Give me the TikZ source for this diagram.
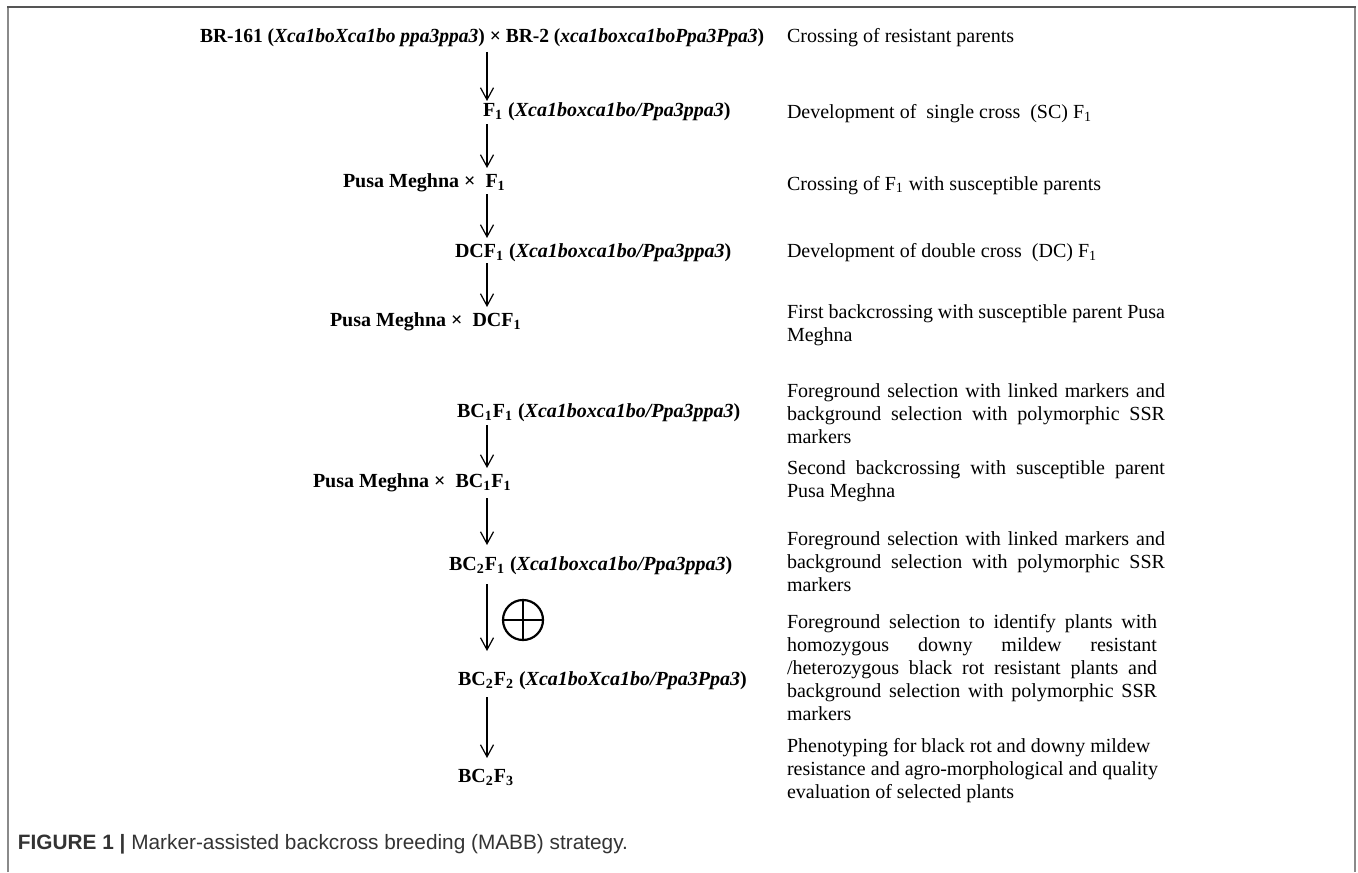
\documentclass[tikz,border=0pt]{standalone}
\usepackage{fontspec}
\usepackage{graphicx}
\setmainfont{Liberation Serif}
\newfontfamily\capfont{Liberation Sans}
\usetikzlibrary{arrows.meta}
\definecolor{framedark}{HTML}{555555}
\definecolor{frameside}{HTML}{8A8A8A}
\definecolor{captext}{HTML}{333333}
\begin{document}
\begin{tikzpicture}[x=0.5pt,y=-0.5pt, every node/.style={inner sep=0pt,outer sep=0pt}]
\tikzset{
  gen/.style={anchor=base west, font=\fontsize{10}{12}\selectfont\bfseries},
  desc/.style={anchor=base west, font=\fontsize{10}{11.6}\selectfont},
  flow/.style={-{Straight Barb[length=6pt,width=6.5pt]}, line width=0.6pt},
  framebar/.style={line width=1pt},
}
\useasboundingbox (0,0) rectangle (1358,872);
% frame
\draw[framebar, frameside] (8,872) -- (8,7);
\draw[framebar, frameside] (1355,7) -- (1355,872);
\draw[framebar, framedark] (7,7) -- (1356,7);

% left column
\node[gen] (r1) at (200,43) {\scalebox{0.975}[1]{BR-161 (\textit{Xca1boXca1bo ppa3ppa3}) × BR-2 (\textit{xca1boxca1boPpa3Ppa3})}};
\node[gen] (r2) at (483,117) {F\textsubscript{1} (\textit{Xca1boxca1bo/Ppa3ppa3})};
\node[gen] (r3) at (343,187) {Pusa Meghna ×\ \ F\textsubscript{1}};
\node[gen] (r4) at (455,257) {DCF\textsubscript{1} (\textit{Xca1boxca1bo/Ppa3ppa3})};
\node[gen] (r5) at (330,326) {Pusa Meghna ×\ \ DCF\textsubscript{1}};
\node[gen] (r6) at (457,417) {BC\textsubscript{1}F\textsubscript{1} (\textit{Xca1boxca1bo/Ppa3ppa3})};
\node[gen] (r7) at (313,487) {Pusa Meghna ×\ \ BC\textsubscript{1}F\textsubscript{1}};
\node[gen] (r8) at (449,570) {BC\textsubscript{2}F\textsubscript{1} (\textit{Xca1boxca1bo/Ppa3ppa3})};
\node[gen] (r9) at (458,685) {BC\textsubscript{2}F\textsubscript{2} (\textit{Xca1boXca1bo/Ppa3Ppa3})};
\node[gen] (r10) at (458,782) {BC\textsubscript{2}F\textsubscript{3}};

% arrow end points
\coordinate (a1s) at (487,52);  \coordinate (a1e) at (487,101);
\coordinate (a2s) at (487,124); \coordinate (a2e) at (487,168);
\coordinate (a3s) at (487,194); \coordinate (a3e) at (487,238);
\coordinate (a4s) at (487,263); \coordinate (a4e) at (487,307);
\coordinate (a6s) at (487,425); \coordinate (a6e) at (487,468);
\coordinate (a7s) at (487,498); \coordinate (a7e) at (487,545);
\coordinate (a8s) at (487,584); \coordinate (a8e) at (487,651);
\coordinate (a9s) at (487,697); \coordinate (a9e) at (487,758);
\foreach \i in {1,2,3,4,6,7,8,9} {\draw[flow] (a\i s) -- (a\i e);}

% selfing symbol
\node[draw, circle, line width=1.1pt, minimum size=20pt] (self) at (523,620) {};
\draw[line width=1.1pt] (self.north) -- (self.south) (self.west) -- (self.east);

% right column
\node[desc] (d1) at (787,43) {Crossing of resistant parents};
\node[desc] (d2) at (787,119) {Development of\ \ single cross\ \ (SC) F\textsubscript{1}};
\node[desc] (d3) at (787,190) {Crossing of F\textsubscript{1} with susceptible parents};
\node[desc] (d4) at (787,257) {Development of double cross\ \ (DC) F\textsubscript{1}};
\node[desc] (d5) at (787,318) {\parbox[t]{189pt}{\makebox[189pt][s]{First backcrossing with susceptible parent Pusa}\\Meghna}};
\node[desc] (d6) at (787,397) {\parbox[t]{189pt}{\makebox[189pt][s]{Foreground selection with linked markers and}\\\makebox[189pt][s]{background selection with polymorphic SSR}\\markers}};
\node[desc] (d7) at (787,474) {\parbox[t]{189pt}{\makebox[189pt][s]{Second backcrossing with susceptible parent}\\Pusa Meghna}};
\node[desc] (d8) at (787,545) {\parbox[t]{189pt}{\makebox[189pt][s]{Foreground selection with linked markers and}\\\makebox[189pt][s]{background selection with polymorphic SSR}\\markers}};
\node[desc] (d9) at (787,628) {\parbox[t]{185pt}{\makebox[185pt][s]{Foreground selection to identify plants with}\\\makebox[185pt][s]{homozygous downy mildew resistant}\\\makebox[185pt][s]{/heterozygous black rot resistant plants and}\\\makebox[185pt][s]{background selection with polymorphic SSR}\\markers}};
\node[desc] (d10) at (787,752) {\parbox[t]{189pt}{Phenotyping for black rot and downy mildew\\resistance and agro-morphological and quality\\evaluation of selected plants}};

% caption
\node[anchor=base west, text=captext] (cap) at (18,849) {\capfont\fontsize{10.4}{12}\selectfont\textbf{FIGURE 1 |} Marker-assisted backcross breeding (MABB) strategy.};
\end{tikzpicture}
\end{document}
